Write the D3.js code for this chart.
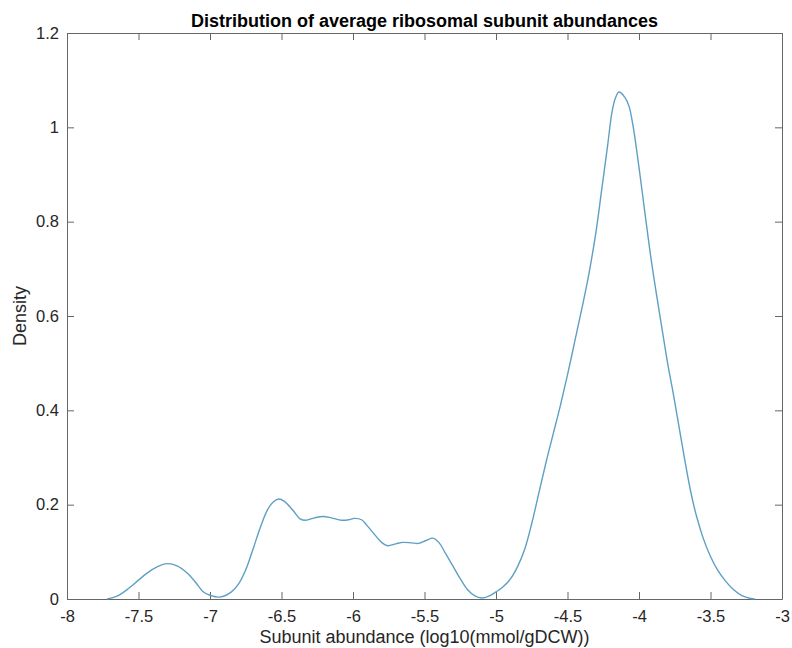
<!DOCTYPE html>
<html>
<head>
<meta charset="utf-8" />
<title>Distribution of average ribosomal subunit abundances</title>
<script src="https://d3js.org/d3.v7.min.js"></script>
<style>
    body { margin: 0; background: #fff; }
    svg { display: block; font-family: "Liberation Sans", Arial, Helvetica, sans-serif; }
    .tick text { fill: #262626; font-size: 16.5px; }
    .domain, .tick line { stroke: #666; }
</style>
</head>
<body>
<div id="holder"></div>
<script>
    //Data
    const abundance = [-7.72, -7.65, -7.58, -7.50, -7.44, -7.37, -7.30, -7.23, -7.16, -7.10, -7.05, -7.00, -6.93, -6.85, -6.80, -6.75, -6.70, -6.65, -6.60, -6.56, -6.52, -6.48, -6.42, -6.37, -6.33, -6.27, -6.21, -6.15, -6.08, -6.03, -5.99, -5.94, -5.90, -5.85, -5.80, -5.76, -5.70, -5.65, -5.59, -5.54, -5.49, -5.44, -5.40, -5.35, -5.30, -5.25, -5.20, -5.15, -5.10, -5.05, -5.00, -4.95, -4.90, -4.85, -4.80, -4.75, -4.70, -4.65, -4.60, -4.55, -4.50, -4.45, -4.40, -4.35, -4.30, -4.26, -4.22, -4.19, -4.165, -4.14, -4.10, -4.07, -4.04, -4.00, -3.96, -3.92, -3.88, -3.84, -3.80, -3.76, -3.72, -3.68, -3.64, -3.60, -3.55, -3.50, -3.45, -3.40, -3.34, -3.28, -3.22, -3.19];
    const density = [0, 0.006, 0.02, 0.04, 0.055, 0.068, 0.075, 0.07, 0.055, 0.035, 0.016, 0.008, 0.004, 0.015, 0.032, 0.062, 0.105, 0.150, 0.188, 0.205, 0.212, 0.207, 0.188, 0.170, 0.167, 0.172, 0.175, 0.172, 0.167, 0.168, 0.171, 0.168, 0.155, 0.137, 0.120, 0.113, 0.117, 0.120, 0.119, 0.118, 0.124, 0.129, 0.120, 0.095, 0.069, 0.043, 0.02, 0.007, 0.002, 0.006, 0.015, 0.026, 0.042, 0.068, 0.105, 0.160, 0.225, 0.290, 0.350, 0.410, 0.475, 0.545, 0.615, 0.690, 0.780, 0.870, 0.960, 1.030, 1.062, 1.075, 1.064, 1.045, 1.0, 0.915, 0.822, 0.73, 0.65, 0.575, 0.50, 0.435, 0.365, 0.295, 0.23, 0.178, 0.128, 0.09, 0.061, 0.04, 0.02, 0.007, 0.001, 0];

    const xTicks = [-8, -7.5, -7, -6.5, -6, -5.5, -5, -4.5, -4, -3.5, -3];
    const xTickLabels = ["-8", "-7.5", "-7", "-6.5", "-6", "-5.5", "-5", "-4.5", "-4", "-3.5", "-3"];
    const yTicks = [0, 0.2, 0.4, 0.6, 0.8, 1, 1.2];
    const yTickLabels = ["0", "0.2", "0.4", "0.6", "0.8", "1", "1.2"];

    //Variables
    const w = 792;
    const h = 648;
    const margin = {top: 33, right: 10, bottom: 49, left: 67};

    const xScale = d3.scaleLinear()
        .domain([-8, -3])
        .range([margin.left, w - margin.right]);

    const yScale = d3.scaleLinear()
        .domain([0, 1.2])
        .range([h - margin.bottom, margin.top]);

    const svg = d3.select("#holder")
        .append("svg")
        .attr("width", w)
        .attr("height", h);

    //Axes (ticks inside, box all round)
    svg.append("g")
        .attr("transform", "translate(0," + (h - margin.bottom) + ")")
        .call(d3.axisBottom(xScale).tickValues(xTicks).tickSize(-7).tickSizeOuter(0).tickPadding(11)
            .tickFormat((d, i) => xTickLabels[i]));

    svg.append("g")
        .attr("transform", "translate(0," + margin.top + ")")
        .call(d3.axisTop(xScale).tickValues(xTicks).tickSize(-7).tickSizeOuter(0).tickFormat(""));

    svg.append("g")
        .attr("transform", "translate(" + margin.left + ",0)")
        .call(d3.axisLeft(yScale).tickValues(yTicks).tickSize(-7).tickSizeOuter(0).tickPadding(8)
            .tickFormat((d, i) => yTickLabels[i]));

    svg.append("g")
        .attr("transform", "translate(" + (w - margin.right) + ",0)")
        .call(d3.axisRight(yScale).tickValues(yTicks).tickSize(-7).tickSizeOuter(0).tickFormat(""));

    svg.selectAll(".tick text").attr("font-size", null).attr("font-family", null);

    //Density curve
    const line = d3.line()
        .x((d, i) => xScale(abundance[i]))
        .y((d, i) => yScale(density[i]))
        .curve(d3.curveCatmullRom);

    svg.append("path")
        .datum(density)
        .attr("fill", "none")
        .attr("stroke", "#5f9fc4")
        .attr("stroke-width", 1.4)
        .attr("d", line);

    //Labels
    svg.append("text")
        .attr("x", (margin.left + w - margin.right) / 2)
        .attr("y", 27)
        .attr("text-anchor", "middle")
        .style("font-weight", "bold")
        .style("font-size", "18px")
        .style("fill", "#000")
        .text("Distribution of average ribosomal subunit abundances");

    svg.append("text")
        .attr("x", (margin.left + w - margin.right) / 2)
        .attr("y", 643)
        .attr("text-anchor", "middle")
        .style("font-size", "18px")
        .style("fill", "#262626")
        .text("Subunit abundance (log10(mmol/gDCW))");

    svg.append("text")
        .attr("transform", "translate(26," + ((margin.top + h - margin.bottom) / 2) + ") rotate(-90)")
        .attr("text-anchor", "middle")
        .style("font-size", "18px")
        .style("fill", "#262626")
        .text("Density");
</script>
</body>
</html>
